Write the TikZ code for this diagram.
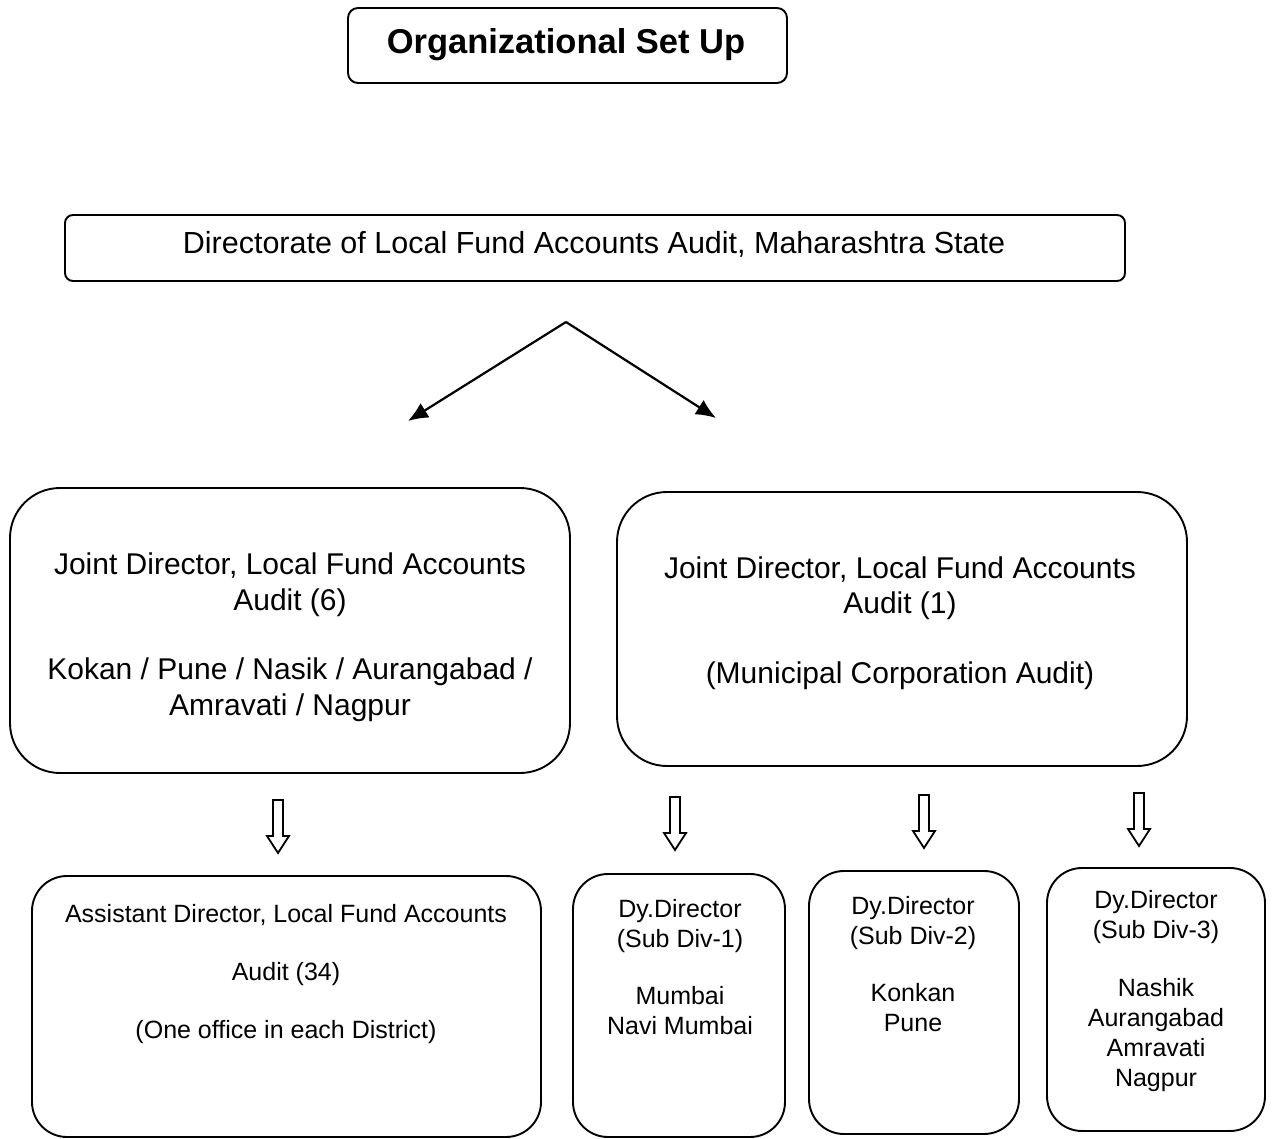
\documentclass[tikz,border=0pt]{standalone}
\usepackage{fontspec}
\setmainfont{Liberation Sans}
\usetikzlibrary{arrows.meta}
\begin{document}
\begin{tikzpicture}[x=1pt,y=-1pt,
  box/.style={draw,line width=1.9pt,inner sep=0pt},
  bigtxt/.style={align=center,font=\fontsize{30}{35.5}\selectfont,inner sep=0pt},
  smalltxt/.style={align=center,font=\fontsize{25}{30}\selectfont,inner sep=0pt},
  splitarrow/.style={line width=2.2pt,-{Latex[length=20pt,width=17pt]}},
  downarrow/.pic={\draw[line width=1.8pt,line join=miter] (-5,0) -- (-5,36) -- (-11,36) -- (0,53) -- (11,36) -- (5,36) -- (5,0) -- cycle;}
]
\useasboundingbox (0,0) rectangle (1272,1139);

% title
\node[box,rounded corners=10pt,minimum width=439pt,minimum height=75pt] (title) at (567.5,45.5) {};
\node[inner sep=0pt,font=\fontsize{34.5}{40}\selectfont\bfseries] (titletxt) at (566,45) {Organizational Set Up};

% directorate
\node[box,rounded corners=8pt,minimum width=1060pt,minimum height=66pt] (dir) at (595,248) {};
\node[align=center,inner sep=0pt,font=\fontsize{30.5}{36}\selectfont] (dirtxt) at (594,244) {Directorate of Local Fund Accounts Audit, Maharashtra State};

% split arrows
\coordinate (apex) at (566,322);
\coordinate (lend) at (408,421);
\coordinate (rend) at (716,418);
\draw[splitarrow] (apex) -- (lend);
\draw[splitarrow] (apex) -- (rend);

% joint directors
\node[box,rounded corners=50pt,minimum width=560pt,minimum height=285pt] (jd1) at (290,630.5) {};
\node[bigtxt] (jd1txt) at (290,637) {Joint Director, Local Fund Accounts\\Audit (6)\\[34pt]Kokan / Pune / Nasik / Aurangabad /\\Amravati / Nagpur};

\node[box,rounded corners=50pt,minimum width=570pt,minimum height=274pt] (jd2) at (902,629) {};
\node[bigtxt] (jd2txt) at (900,623) {Joint Director, Local Fund Accounts\\Audit (1)\\[34pt](Municipal Corporation Audit)};

% hollow down arrows
\pic at (278,800) {downarrow};
\pic at (675,797) {downarrow};
\pic at (924,795) {downarrow};
\pic at (1139,793) {downarrow};

% bottom boxes
\node[box,rounded corners=35pt,minimum width=509pt,minimum height=261pt] (ad) at (286.5,1006.5) {};
\node[smalltxt] (adtxt) at (286,974) {Assistant Director, Local Fund Accounts\\[28pt]Audit (34)\\[28pt](One office in each District)};

\node[box,rounded corners=35pt,minimum width=212pt,minimum height=263pt] (dd1) at (679,1005.5) {};
\node[smalltxt] (dd1txt) at (680,967) {Dy.Director\\(Sub Div-1)\\[27pt]Mumbai\\Navi Mumbai};

\node[box,rounded corners=35pt,minimum width=210pt,minimum height=263pt] (dd2) at (914,1002.5) {};
\node[smalltxt] (dd2txt) at (913,964) {Dy.Director\\(Sub Div-2)\\[27pt]Konkan\\Pune};

\node[box,rounded corners=35pt,minimum width=218pt,minimum height=263pt] (dd3) at (1156,999.5) {};
\node[smalltxt] (dd3txt) at (1156,991) {Dy.Director\\(Sub Div-3)\\[28pt]Nashik\\Aurangabad\\Amravati\\Nagpur};
\end{tikzpicture}
\end{document}
